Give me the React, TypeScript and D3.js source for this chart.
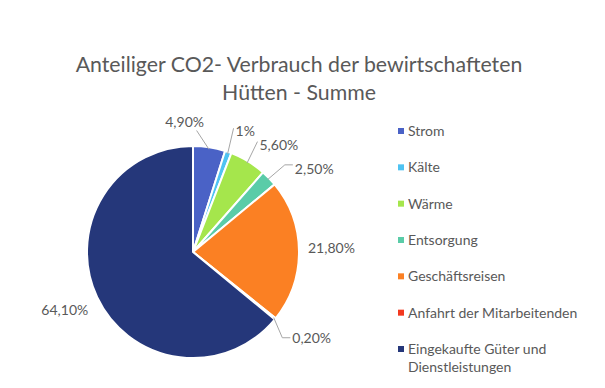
import React from 'react';
import * as d3 from 'd3';

const categories = [
  'Strom',
  'Kälte',
  'Wärme',
  'Entsorgung',
  'Geschäftsreisen',
  'Anfahrt der Mitarbeitenden',
  'Eingekaufte Güter und Dienstleistungen',
];
const values = [4.9, 1.0, 5.6, 2.5, 21.8, 0.2, 64.1];
const valueLabels = ['4,90%', '1%', '5,60%', '2,50%', '21,80%', '0,20%', '64,10%'];
const colors = ['#4a62c6', '#4fc3f2', '#a5e64c', '#5acca8', '#fb8023', '#f3391f', '#25377a'];
const titleLines = ['Anteiliger CO2- Verbrauch der bewirtschafteten', 'Hütten - Summe'];

const W = 605;
const H = 388;
const cx = 193;
const cy = 252;
const R = 106;
const FONT = 'Lato, "Open Sans", sans-serif';
const GREY = '#595959';

// Excel schiebt einige Beschriftungen zur Seite, damit sie sich nicht überlappen
const labelShift: Record<string, { dx: number; dy: number; r: number; line: boolean }> = {
  Strom: { dx: -28, dy: -3, r: 128, line: true },
  'Kälte': { dx: 0, dy: 0, r: 128, line: true },
  'Wärme': { dx: 0, dy: 2, r: 128, line: true },
  Entsorgung: { dx: 10, dy: 6, r: 128, line: true },
  'Geschäftsreisen': { dx: 0, dy: -3, r: 115, line: false },
  'Anfahrt der Mitarbeitenden': { dx: 0, dy: 5, r: 128, line: true },
  'Eingekaufte Güter und Dienstleistungen': { dx: 11, dy: 3, r: 128, line: false },
};

export default function App() {
  const data = categories.map((c, i) => ({ name: c, value: values[i], label: valueLabels[i], color: colors[i] }));
  const pie = d3.pie<any>().value((d) => d.value).sort(null);
  const arcs = pie(data);
  const arc = d3.arc<any>().innerRadius(0).outerRadius(R);

  const legendY = d3.scalePoint<string>().domain(categories).range([131, 349]);

  return (
    <svg width={W} height={H} style={{ position: 'absolute', left: 0, top: 0, background: '#fff' }} fontFamily={FONT}>
      <rect width={W} height={H} fill="#fff" />
      {titleLines.map((t, i) => (
        <text key={t} x={299} y={72 + i * 28} textAnchor="middle" fontSize={21.3} fill={GREY}>
          {t}
        </text>
      ))}
      <g transform={`translate(${cx},${cy})`}>
        {arcs.map((a) => (
          <path key={a.data.name} d={arc(a) as string} fill={a.data.color} stroke="#fff" strokeWidth={2} strokeLinejoin="round" />
        ))}
        {arcs.map((a) => {
          const mid = (a.startAngle + a.endAngle) / 2;
          const s = labelShift[a.data.name];
          const sin = Math.sin(mid);
          const cos = -Math.cos(mid);
          const lx = sin * s.r + s.dx;
          const ly = cos * s.r + s.dy;
          const right = lx > 0 && a.data.name !== 'Strom';
          const anchor = a.data.name === 'Strom' ? 'middle' : right ? 'start' : 'end';
          // Endpunkt der Führungslinie am Text
          let ex = lx;
          let ey = ly;
          if (anchor === 'middle') {
            ex = lx + 12;
            ey = ly + 8;
          } else if (right) {
            ex = lx - 2;
            ey = ly - 3;
          }
          const sx = sin * (R - 2);
          const sy = cos * (R - 2);
          let path = `M${sx},${sy}L${ex},${ey}`;
          if (a.data.name === 'Anfahrt der Mitarbeitenden') {
            path = `M${sx},${sy}L${ex - 8},${ey + 3}L${ex},${ey + 3}`;
          } else if (a.data.name === 'Entsorgung') {
            path = `M${sx},${sy}L${ex - 8},${ey - 1}L${ex},${ey - 1}`;
          }
          return (
            <g key={`l-${a.data.name}`}>
              {s.line && <path d={path} fill="none" stroke="#a6a6a6" strokeWidth={1} />}
              <text x={lx} y={ly} dy="0.35em" textAnchor={anchor} fontSize={14} fill={GREY}>
                {a.data.label}
              </text>
            </g>
          );
        })}
      </g>
      <g>
        {categories.map((c, i) => {
          const y = legendY(c) as number;
          const parts = c === 'Eingekaufte Güter und Dienstleistungen' ? ['Eingekaufte Güter und', 'Dienstleistungen'] : [c];
          return (
            <g key={c}>
              <rect x={398} y={y - 3} width={6} height={6} fill={colors[i]} />
              {parts.map((p, j) => (
                <text key={p} x={408} y={y + j * 18} dy="0.35em" fontSize={14} fill={GREY}>
                  {p}
                </text>
              ))}
            </g>
          );
        })}
      </g>
    </svg>
  );
}
